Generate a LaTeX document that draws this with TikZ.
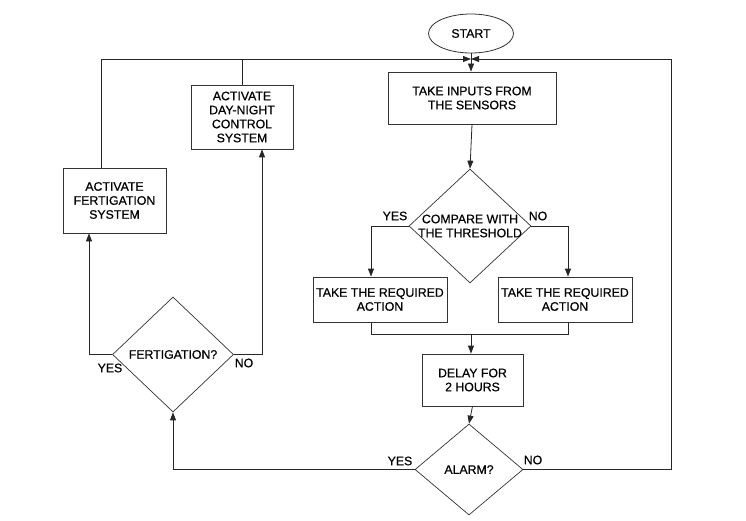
\documentclass[tikz,border=0pt]{standalone}
\usepackage{fontspec}
\setmainfont{Liberation Sans}
\newfontfamily\diagfont{Liberation Sans}[FakeBold=0.6]
\usetikzlibrary{shapes.geometric,arrows.meta}
\begin{document}
\begin{tikzpicture}[x=1pt,y=-1pt,
  every node/.style={font=\diagfont\fontsize{12.3}{14}\selectfont, text=black, align=center},
  box/.style={draw=black!80, line width=0.8pt, rectangle, inner sep=0pt},
  dec/.style={draw=black!80, line width=0.7pt, diamond, inner sep=0pt},
  term/.style={draw=black!80, line width=0.8pt, ellipse, inner sep=0pt},
  conn/.style={draw=black!85, line width=0.8pt},
  arr/.style={conn, -{Triangle[length=8pt,width=6pt]}},
  lbl/.style={inner sep=0pt}]
\useasboundingbox (0,0) rectangle (746,521);
% nodes
\node[term, minimum width=85, minimum height=39] (start) at (471,33.5) {START};
\coordinate (j) at (471,59);
\node[box, minimum width=168, minimum height=52] (inputs) at (472,98) {TAKE INPUTS FROM\\THE SENSORS};
\node[dec, minimum width=122, minimum height=114,
  label={[align=center, inner sep=0pt]center:COMPARE WITH\\THE THRESHOLD}] (cmp) at (470,226) {};
\node[box, minimum width=134, minimum height=45] (act1) at (380,299.5) {TAKE THE REQUIRED\\ACTION};
\node[box, minimum width=134, minimum height=45] (act2) at (565,299.5) {TAKE THE REQUIRED\\ACTION};
\node[box, minimum width=101, minimum height=52] (delay) at (472.5,380) {DELAY FOR\\2 HOURS};
\node[dec, minimum width=108, minimum height=91,
  label={[inner sep=0pt]center:ALARM?}] (alarm) at (469,469.5) {};
\node[dec, minimum width=121, minimum height=115,
  label={[inner sep=0pt]center:FERTIGATION?}] (fertd) at (173,354.5) {};
\node[box, minimum width=103, minimum height=65] (fbox) at (114.5,200.5) {ACTIVATE\\FERTIGATION\\SYSTEM};
\node[box, minimum width=102, minimum height=64] (dn) at (242,117) {ACTIVATE\\DAY-NIGHT\\CONTROL\\SYSTEM};
% labels
\node[lbl] (y1) at (395,216) {YES};
\node[lbl] (n1) at (538,216) {NO};
\node[lbl] (y2) at (110,368) {YES};
\node[lbl] (n2) at (244,363) {NO};
\node[lbl] (y3) at (400,461) {YES};
\node[lbl] (n3) at (533,460) {NO};
% helper coordinates
\coordinate (mL) at (371,334);
\coordinate (mR) at (568,334);
\coordinate (mC) at (471,334);
\coordinate (rt) at (671,59);
\coordinate (lt) at (101,59);
% connectors
\draw[arr] (start.south) -- (j |- inputs.north);
\draw[arr] (inputs.south) -- (cmp.north);
\draw[arr] (cmp.west) -| ([xshift=-9pt]act1.north);
\draw[arr] (cmp.east) -| ([xshift=3pt]act2.north);
\draw[conn] ([xshift=-9pt]act1.south) -- (mL) -- (mR) -- ([xshift=3pt]act2.south);
\draw[arr] (mC) -- (mC |- delay.north);
\draw[arr] (delay.south) -- (alarm.north);
\draw[arr] (alarm.west) -| (fertd.south);
\draw[arr] (alarm.east) -| (rt) -- (j);
\draw[arr] (fertd.west) -| ([xshift=-25.5pt]fbox.south);
\draw[arr] (fertd.east) -| ([xshift=20pt]dn.south);
\draw[arr] ([xshift=-13.5pt]fbox.north) -- (lt) -- (j);
\draw[conn] (dn.north) -- (dn.north |- lt);
\end{tikzpicture}
\end{document}
